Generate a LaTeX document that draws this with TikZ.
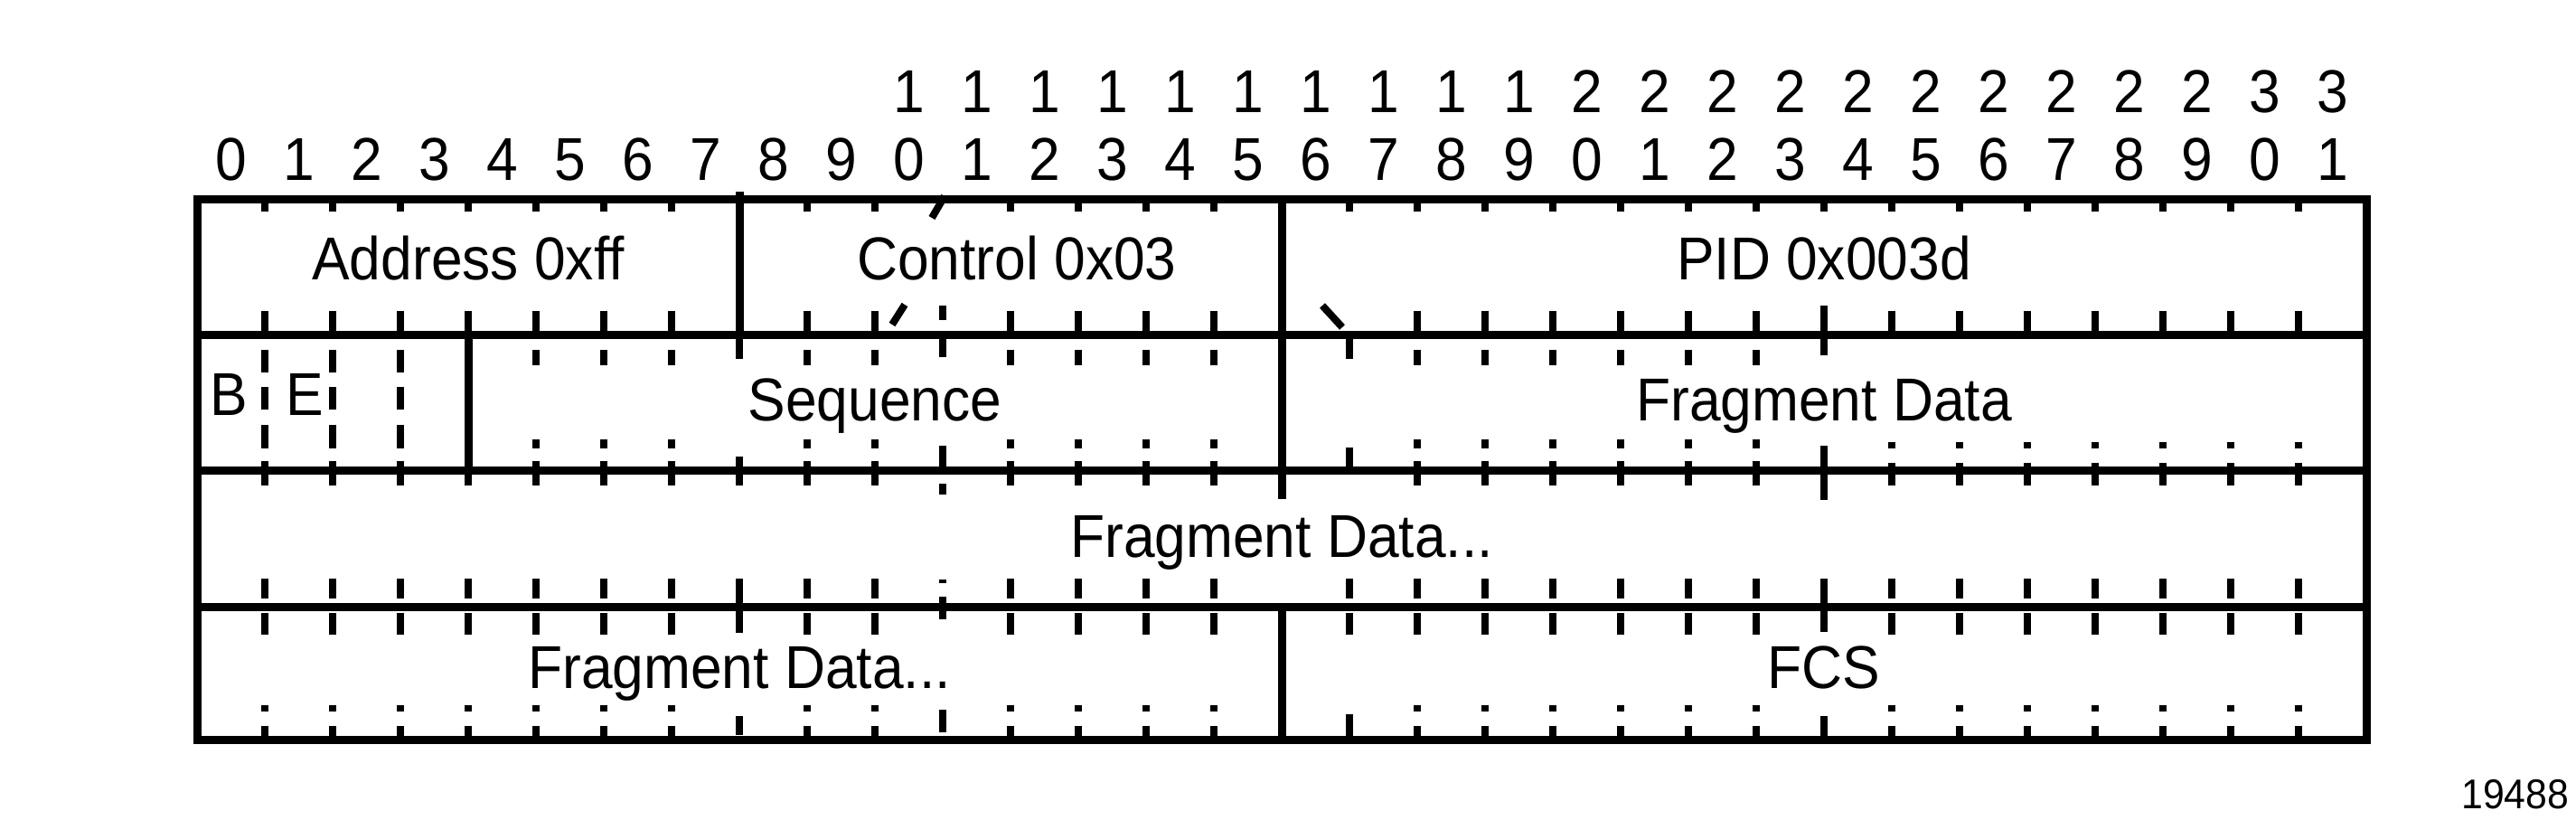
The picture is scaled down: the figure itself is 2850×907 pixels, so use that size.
\documentclass[tikz,border=0pt]{standalone}
\usepackage{fontspec}
\setmainfont{Liberation Sans}[FakeStretch=0.93]
\newcommand\colx[1]{218+75*#1}
\newcommand\tck[3]{\draw[tk] ({218+75*#1},#2) -- ({218+75*#1},#3);}
\begin{document}
\begin{tikzpicture}[x=0.25pt,y=-0.25pt,
  tk/.style={line width=2pt, line cap=butt},
  bd/.style={line width=2.25pt},
  lbl/.style={inner sep=0pt, anchor=base, font=\fontsize{16.75}{20}\selectfont},
  fld/.style={inner sep=0pt, anchor=base, font=\fontsize{16.75}{20}\selectfont}]
\useasboundingbox (0,0) rectangle (2850,907);
% bit numbers
\foreach \i in {0,...,31}{
  \pgfmathtruncatemacro\un{mod(\i,10)}
  \pgfmathtruncatemacro\tn{div(\i,10)}
  \node[lbl] (u\i) at ({255.5+75*\i},200) {\un};
  \ifnum\i>9 \node[lbl] (t\i) at ({255.5+75*\i},125) {\tn};\fi
}
% frame and row lines
\draw[bd] (218,220.5) rectangle (2618,819);
\foreach \y in {371,521,672} \draw[bd] (218,\y) -- (2618,\y);
% field dividers
\draw[bd] ({\colx{8}},212) -- ({\colx{8}},371);
\tck{8}{360}{397}
\draw[bd] ({\colx{16}},220) -- ({\colx{16}},552);
\draw[bd] ({\colx{4}},371) -- ({\colx{4}},521);
\draw[bd] ({\colx{16}},672) -- ({\colx{16}},819);
% row 1 ticks
\foreach \k in {1,...,7,9,10,12,13,14,15,17,18,...,31} {\tck{\k}{216}{234}}
\draw[tk] (1045,217) -- (1031,241);
\foreach \k in {1,...,7,9,10,12,13,14,15,18,19,...,23,25,26,...,31} {\tck{\k}{344}{371}}
\tck{11}{338}{354}
\draw[tk] (1001,337) -- (987,359);
\draw[tk] (1463,338) -- (1485,362);
\tck{24}{338}{393}
% row 2 ticks
\foreach \k in {1,2,3} {\tck{\k}{360}{371}\tck{\k}{387}{412}\tck{\k}{428}{453}\tck{\k}{470}{496}\tck{\k}{510}{537}}
\tck{4}{510}{537}
\foreach \k in {5,6,7,9,10,12,13,14,15,18,19,...,23} {\tck{\k}{387}{404}\tck{\k}{486}{496}\tck{\k}{510}{537}}
\tck{8}{505}{537}
\tck{11}{368}{395}\tck{11}{493}{520}\tck{11}{535}{547}
\tck{17}{371}{397}\tck{17}{495}{522}
\tck{24}{493}{553}
\foreach \k in {25,26,...,31} {\tck{\k}{489}{496}\tck{\k}{512}{537}}
% row 3 ticks
\foreach \k in {1,...,7,9,10,12,13,14,15,18,19,...,23,25,26,...,31} {\tck{\k}{640}{662}}
\tck{8}{640}{700}
\tck{11}{641}{645}\tck{11}{660}{685}
\tck{17}{640}{662}
\tck{24}{640}{699}
% row 4 ticks
\foreach \k in {1,...,7,9,10,12,13,14,15,18,19,...,23,25,26,...,31} {\tck{\k}{678}{702}\tck{\k}{780}{787}\tck{\k}{803}{819}}
\tck{17}{678}{702}\tck{17}{790}{819}
\tck{8}{792}{813}
\tck{11}{785}{810}
\tck{24}{792}{819}
% field names
\node[fld] (addr) at (518,310) {Address 0xff};
\node[fld] (ctrl) at (1125,310) {Control 0x03};
\node[fld] (pid) at (2018,310) {PID 0x003d};
\node[fld] (bflag) at (253,460) {B};
\node[fld] (eflag) at (337,460) {E};
\node[fld] (seq) at (968,466) {Sequence};
\node[fld] (frag1) at (2018,466) {Fragment Data};
\node[fld] (frag2) at (1418,617) {Fragment Data...};
\node[fld] (frag3) at (818,762) {Fragment Data...};
\node[fld] (fcs) at (2018,762) {FCS};
\node[inner sep=0pt, anchor=base east, font=\fontsize{11.5}{14}\selectfont] (fig) at (2843,895) {19488};
\end{tikzpicture}
\end{document}
